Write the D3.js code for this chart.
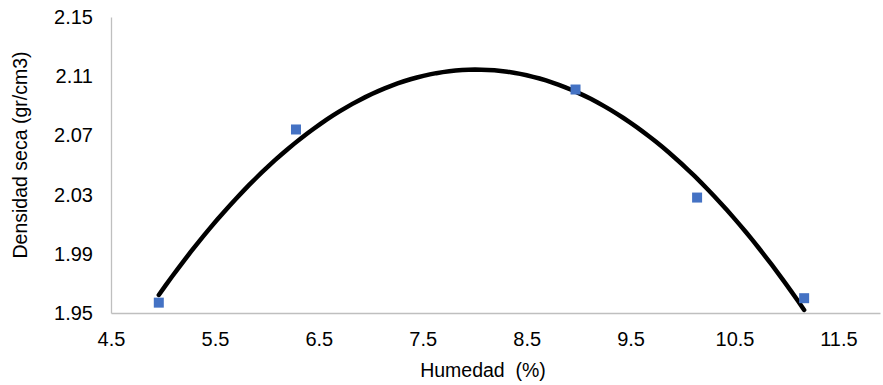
<!DOCTYPE html>
<html>
<head>
<meta charset="utf-8">
<script src="https://cdn.jsdelivr.net/npm/d3@7"></script>
<style>
  body { margin: 0; background: #fff; }
  text { font-family: "Liberation Sans", Arial, sans-serif; fill: #000; }
</style>
</head>
<body>
<div id="chart"></div>
<script>
var humedad = [4.96, 6.28, 8.97, 10.14, 11.17];
var densidad = [1.957, 2.074, 2.101, 2.028, 1.960];
var xTicks = [4.5, 5.5, 6.5, 7.5, 8.5, 9.5, 10.5, 11.5];
var yTicks = [1.95, 1.99, 2.03, 2.07, 2.11, 2.15];

var width = 883,
  height = 385;

var x = d3.scaleLinear().domain([4.5, 11.9]).range([111, 880]);
var y = d3.scaleLinear().domain([1.95, 2.15]).range([313, 17]);

var svg = d3
  .select("#chart")
  .append("svg")
  .attr("width", width)
  .attr("height", height);

// axes (no tick marks, grey lines)
var xAxis = svg
  .append("g")
  .attr("transform", "translate(0," + y(1.95) + ")")
  .call(d3.axisBottom(x).tickValues(xTicks).tickSize(0).tickPadding(19).tickFormat(d3.format(".1f")));
var yAxis = svg
  .append("g")
  .attr("transform", "translate(" + x(4.5) + ",0)")
  .call(d3.axisLeft(y).tickValues(yTicks).tickSize(0).tickPadding(18).tickFormat(d3.format(".2f")));

[xAxis, yAxis].forEach(function(a) {
  a.select(".domain").attr("stroke", "#bfbfbf").attr("stroke-width", 1.3);
  a.selectAll(".tick text").attr("font-size", 20).attr("font-family", "Liberation Sans, Arial, sans-serif");
});

// least-squares 2nd order trendline
var n = humedad.length;
var mx = d3.mean(humedad);
var u = humedad.map(function(v) { return v - mx; });
var S2 = d3.sum(u, function(d) { return d * d; }),
  S3 = d3.sum(u, function(d) { return d * d * d; }),
  S4 = d3.sum(u, function(d) { return d * d * d * d; }),
  Sy = d3.sum(densidad),
  Suy = d3.sum(u, function(d, i) { return d * densidad[i]; }),
  Su2y = d3.sum(u, function(d, i) { return d * d * densidad[i]; });
// solve [n 0 S2; 0 S2 S3; S2 S3 S4] * [a b c] = [Sy Suy Su2y]
var M = [[n, 0, S2, Sy], [0, S2, S3, Suy], [S2, S3, S4, Su2y]];
for (var i = 0; i < 3; i++) {
  for (var k = i + 1; k < 3; k++) {
    var f = M[k][i] / M[i][i];
    for (var j = i; j < 4; j++) M[k][j] -= f * M[i][j];
  }
}
var c = M[2][3] / M[2][2];
var b = (M[1][3] - M[1][2] * c) / M[1][1];
var a = (M[0][3] - M[0][2] * c - M[0][1] * b) / M[0][0];
function fit(v) {
  var d = v - mx;
  return a + b * d + c * d * d;
}
var x0 = d3.min(humedad), x1 = d3.max(humedad);
var trend = d3.range(0, 101).map(function(t) {
  var v = x0 + (x1 - x0) * t / 100;
  return [v, fit(v)];
});

svg
  .append("path")
  .datum(trend)
  .attr("fill", "none")
  .attr("stroke", "#000")
  .attr("stroke-width", 4.5)
  .attr("stroke-linecap", "round")
  .attr("d", d3.line().x(function(d) { return x(d[0]); }).y(function(d) { return y(d[1]); }));

var ms = 10;
svg
  .selectAll("rect.pt")
  .data(humedad)
  .enter()
  .append("rect")
  .attr("class", "pt")
  .attr("x", function(d) { return x(d) - ms / 2; })
  .attr("y", function(d, i) { return y(densidad[i]) - ms / 2; })
  .attr("width", ms)
  .attr("height", ms)
  .attr("fill", "#4472c4");

svg
  .append("text")
  .attr("x", 483)
  .attr("y", 377)
  .attr("text-anchor", "middle")
  .attr("font-size", 19.5)
  .attr("xml:space", "preserve")
  .style("white-space", "pre")
  .text("Humedad  (%)");

svg
  .append("text")
  .attr("transform", "translate(27,155) rotate(-90)")
  .attr("text-anchor", "middle")
  .attr("font-size", 19.5)
  .text("Densidad seca (gr/cm3)");
</script>
</body>
</html>
